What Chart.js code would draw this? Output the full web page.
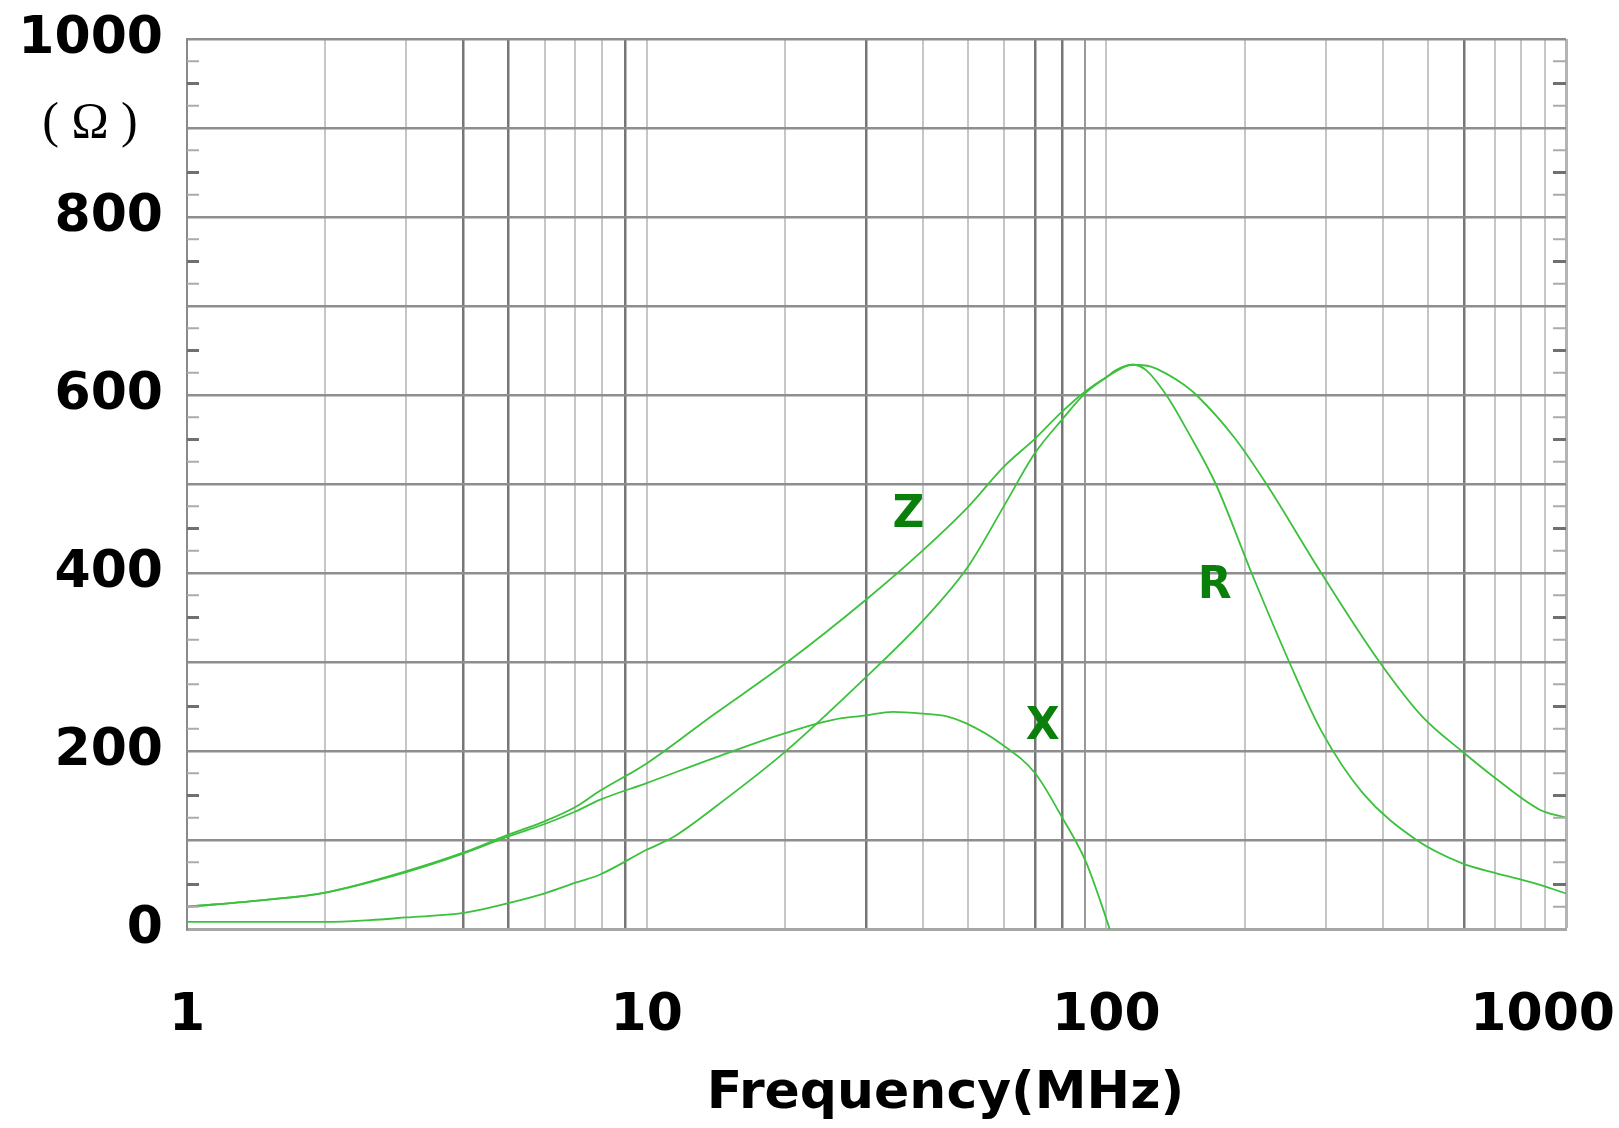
<!DOCTYPE html>
<html>
<head>
<meta charset="utf-8">
<title>Impedance vs Frequency</title>
<script src="https://cdn.jsdelivr.net/npm/chart.js@4.4.1/dist/chart.umd.min.js"></script>
<style>
  html, body { margin: 0; padding: 0; background: #fff; }
</style>
</head>
<body>
<canvas id="myChart" width="1619" height="1128"></canvas>
<script>
'use strict';
// ******* Data *******
let zFreq = [1, 1.5, 2, 3, 4, 5, 6, 7, 7.9, 10, 14, 20, 30, 40, 50, 60, 70, 80, 90, 100, 114, 125, 135, 147, 157, 190, 223, 291, 393, 488, 593, 700, 877, 1000];
let zVals = [25, 33, 41, 65, 86, 106, 121, 137, 155, 186, 241, 298, 370, 426, 474, 520, 551, 581, 604, 620, 634, 632, 624, 612, 600, 552, 500, 403, 300, 238, 200, 170, 134, 125];

let rFreq = [1, 2, 2.5, 3, 4, 5, 6, 7, 7.9, 10, 11.4, 14, 20, 30, 40, 50, 60, 70, 80, 90, 100, 105, 114, 122, 135, 150, 173, 207, 250, 294, 361, 473, 593, 700, 845, 1000];
let rVals = [8, 8, 10, 13, 18, 29, 40, 52, 61, 89, 103, 136, 199, 283, 347, 407, 476, 535, 572, 602, 620, 628, 634, 628, 600, 560, 500, 400, 300, 222, 153, 100, 74, 63, 52, 40];

let xFreq = [1, 1.5, 2, 3, 4, 5, 6, 7, 7.9, 10, 14, 20, 25.4, 30, 34.3, 40, 45, 49.6, 58.7, 70, 80, 90, 96.8, 101.7];
let xVals = [25, 33, 41, 64, 85, 104, 118, 132, 145, 164, 192, 220, 235, 240, 244, 242, 239, 231, 209, 175, 126, 77, 33, 0];

// ****** Axis labels ******
let xTickLabels = [1, 10, 100, 1000];
let yTickLabels = [0, 200, 400, 600, 800, 1000];
let xDarkLines = [4, 5, 9, 30, 70, 80, 600];

function toPoints(freqs, vals) {
  let pts = [];
  for (let i = 0; i < freqs.length; i++) {
    pts.push({ x: freqs[i], y: vals[i] });
  }
  return pts;
}

// minor log grid: 1..9 in every decade, plus the top end
let xGridTicks = [];
for (let d = 1; d < 1000; d *= 10) {
  for (let k = 1; k <= 9; k++) {
    xGridTicks.push(k * d);
  }
}
xGridTicks.push(1000);

const FONT = '"DejaVu Sans", Verdana, sans-serif';
const curveGreen = '#3cc13c';

// ****** Extra drawing: inner ticks, x labels, unit, curve names ******
const extrasPlugin = {
  id: 'extras',
  afterDraw(chart) {
    const { ctx, chartArea, scales } = chart;
    const xs = scales.x;
    const ys = scales.y;
    ctx.save();

    // small ticks every 25 on both sides
    for (let v = 25; v < 1000; v += 25) {
      if (v % 100 === 0) continue;
      const py = ys.getPixelForValue(v);
      const half = v % 50 === 0;
      ctx.strokeStyle = half ? '#707070' : '#ababab';
      ctx.lineWidth = half ? 3 : 2;
      ctx.beginPath();
      ctx.moveTo(chartArea.left, py);
      ctx.lineTo(chartArea.left + 12, py);
      ctx.moveTo(chartArea.right - 13, py);
      ctx.lineTo(chartArea.right, py);
      ctx.stroke();
    }

    // x tick labels, kept inside the canvas
    ctx.fillStyle = '#000';
    ctx.font = 'bold 52px ' + FONT;
    ctx.textBaseline = 'middle';
    ctx.textAlign = 'center';
    for (let i = 0; i < xTickLabels.length; i++) {
      const label = String(xTickLabels[i]);
      const w = ctx.measureText(label).width;
      let px = xs.getPixelForValue(xTickLabels[i]);
      px = Math.min(px, chart.width - w / 2 - 4);
      px = Math.max(px, w / 2 + 4);
      ctx.fillText(label, px, chartArea.bottom + 87);
    }

    // axis title
    ctx.font = 'bold 52px ' + FONT;
    ctx.fillText('Frequency(MHz)', chartArea.left + chartArea.width * 0.55, chartArea.bottom + 165);

    // unit
    ctx.font = '50px "Liberation Serif", "DejaVu Serif", serif';
    ctx.fillText('( Ω )', chartArea.left - 97, ys.getPixelForValue(905));

    // curve names
    ctx.fillStyle = '#0b7f0b';
    ctx.font = 'bold 44px ' + FONT;
    ctx.fillText('Z', xs.getPixelForValue(37.1), ys.getPixelForValue(464));
    ctx.fillText('R', xs.getPixelForValue(172), ys.getPixelForValue(385));
    ctx.fillText('X', xs.getPixelForValue(72.7), ys.getPixelForValue(226));

    ctx.restore();
  }
};

function lineSet(label, pts) {
  return {
    label: label,
    data: pts,
    borderColor: curveGreen,
    borderWidth: 1.8,
    pointRadius: 0,
    fill: false,
    cubicInterpolationMode: 'monotone'
  };
}

let ctx = document.getElementById('myChart');

let impedanceChart = new Chart(ctx, {
  type: 'line',
  data: {
    datasets: [
      lineSet('Z', toPoints(zFreq, zVals)),
      lineSet('R', toPoints(rFreq, rVals)),
      lineSet('X', toPoints(xFreq, xVals))
    ]
  },
  options: {
    responsive: false,
    animation: false,
    devicePixelRatio: 1,
    layout: { padding: { top: 39, right: 53, left: 0, bottom: 0 } },
    plugins: {
      legend: { display: false },
      tooltip: { enabled: false }
    },
    scales: {
      x: {
        type: 'logarithmic',
        min: 1,
        max: 1000,
        afterBuildTicks: (scale) => {
          scale.ticks = xGridTicks.map(v => ({ value: v }));
        },
        afterFit: (scale) => { scale.height = 199; },
        ticks: { display: false, autoSkip: false },
        grid: {
          drawTicks: false,
          color: (c) => {
            const v = c.tick ? c.tick.value : 0;
            if (v === 1000) return '#b4b4b4';
            if (xDarkLines.includes(v)) return '#767676';
            if (v === 90) return '#999999';
            return '#c6c6c6';
          },
          lineWidth: (c) => {
            const v = c.tick ? c.tick.value : 0;
            if (v === 1000) return 3;
            return xDarkLines.includes(v) ? 2.5 : 2;
          }
        },
        border: { color: '#a6a6a6', width: 3 }
      },
      y: {
        min: 0,
        max: 1000,
        afterFit: (scale) => {
          scale.width = 187;
          scale.paddingTop = 0;
          scale.paddingBottom = 0;
        },
        ticks: {
          stepSize: 100,
          padding: 24,
          color: '#000',
          font: { family: FONT, size: 52, weight: 'bold' },
          callback: (v) => yTickLabels.includes(v) ? String(v) : ''
        },
        grid: {
          drawTicks: false,
          color: '#8e8e8e',
          lineWidth: 2.5
        },
        border: { color: '#8a8a8a', width: 2 }
      }
    }
  },
  plugins: [extrasPlugin]
});
</script>
</body>
</html>
